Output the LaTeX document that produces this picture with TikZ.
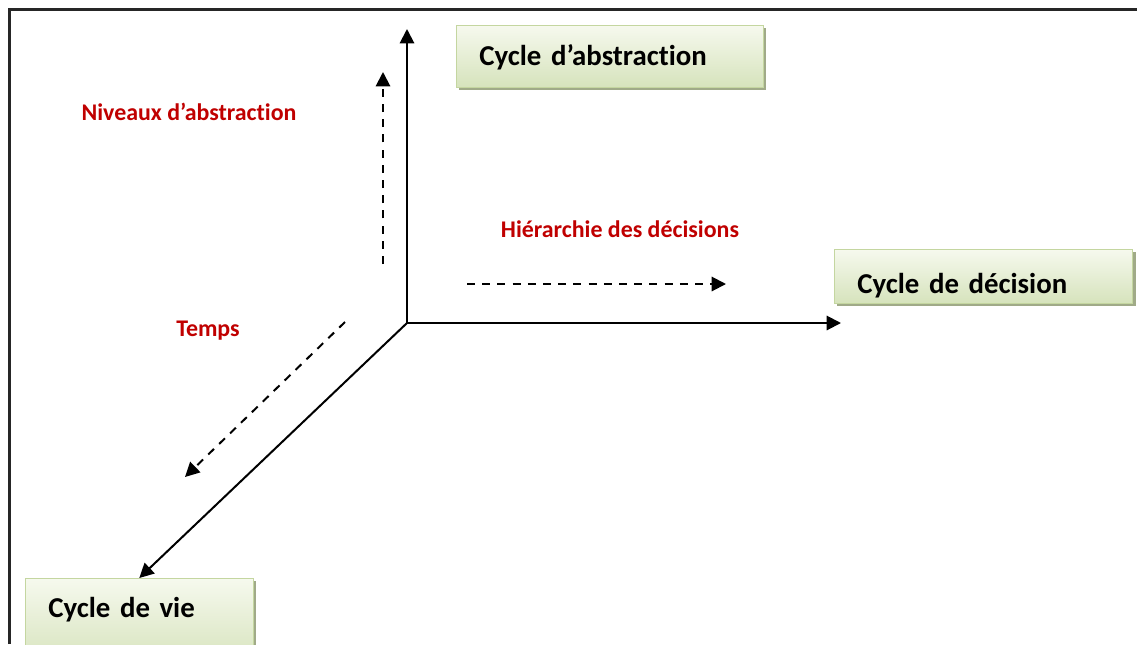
\documentclass[tikz,border=0pt]{standalone}
\usepackage{fontspec}
\setmainfont{Carlito}[Ligatures=NoCommon]
\usetikzlibrary{arrows.meta,shadows}
\definecolor{boxtop}{RGB}{246,249,238}
\definecolor{boxbottom}{RGB}{214,227,188}
\definecolor{boxline}{RGB}{196,214,160}
\definecolor{boxshadow}{RGB}{160,170,136}
\definecolor{legendred}{RGB}{192,0,0}

\begin{document}
\begin{tikzpicture}[x=0.25mm,y=-0.25mm,
    axis/.style={line width=0.5mm,-{Triangle[length=3.6mm,width=3.6mm]}},
    hint/.style={axis,dash pattern=on 2mm off 1.8mm},
    cyclebox/.style={draw=boxline,line width=0.4pt,top color=boxtop,bottom color=boxbottom,
        drop shadow={shadow xshift=0.8mm,shadow yshift=-0.8mm,fill=boxshadow,opacity=1},
        align=left,inner xsep=5.75mm,inner ysep=0pt,anchor=north west,
        font=\fontsize{20.5}{24}\selectfont\bfseries},
    legend/.style={text=legendred,font=\fontsize{17}{20}\selectfont\bfseries}]
    \useasboundingbox (0,0) rectangle (1137,644);
    % frame (only top and left edges show)
    \draw[line width=0.75mm,black!85] (9,644) -- (9,9) -- (1137,9);
    % the three cycles
    \node[cyclebox,text width=65.25mm,text height=10mm,text depth=5.5mm] (abstraction)
        at (456,25) {Cycle d’abstraction};
    \node[cyclebox,text width=63mm,text height=11mm,text depth=2.5mm] (decision)
        at (834,249) {Cycle de décision};
    \node[cyclebox,text width=45.5mm,text height=9.75mm,text depth=12mm] (vie)
        at (25,578) {Cycle de vie};
    % Draw axes
    \coordinate (o) at (407,323);
    \coordinate (up) at (407,29);
    \coordinate (right) at (841,323);
    \draw[axis] (o) -- (up);
    \draw[axis] (o) -- (right);
    \draw[axis] (o) -- (vie.north);
    % dashed arrows beside each axis
    \coordinate (n0) at (383,264); \coordinate (n1) at (383,72);
    \coordinate (h0) at (467,284); \coordinate (h1) at (726,284);
    \coordinate (t0) at (345,322); \coordinate (t1) at (185,477);
    \draw[hint] (n0) -- (n1);
    \draw[hint] (h0) -- (h1);
    \draw[hint] (t0) -- (t1);
    \node[legend] (niveaux) at (189,112) {Niveaux d’abstraction};
    \node[legend] (hierarchie) at (620,229) {Hiérarchie des décisions};
    \node[legend] (temps) at (208,331) {Temps};
\end{tikzpicture}
\end{document}
